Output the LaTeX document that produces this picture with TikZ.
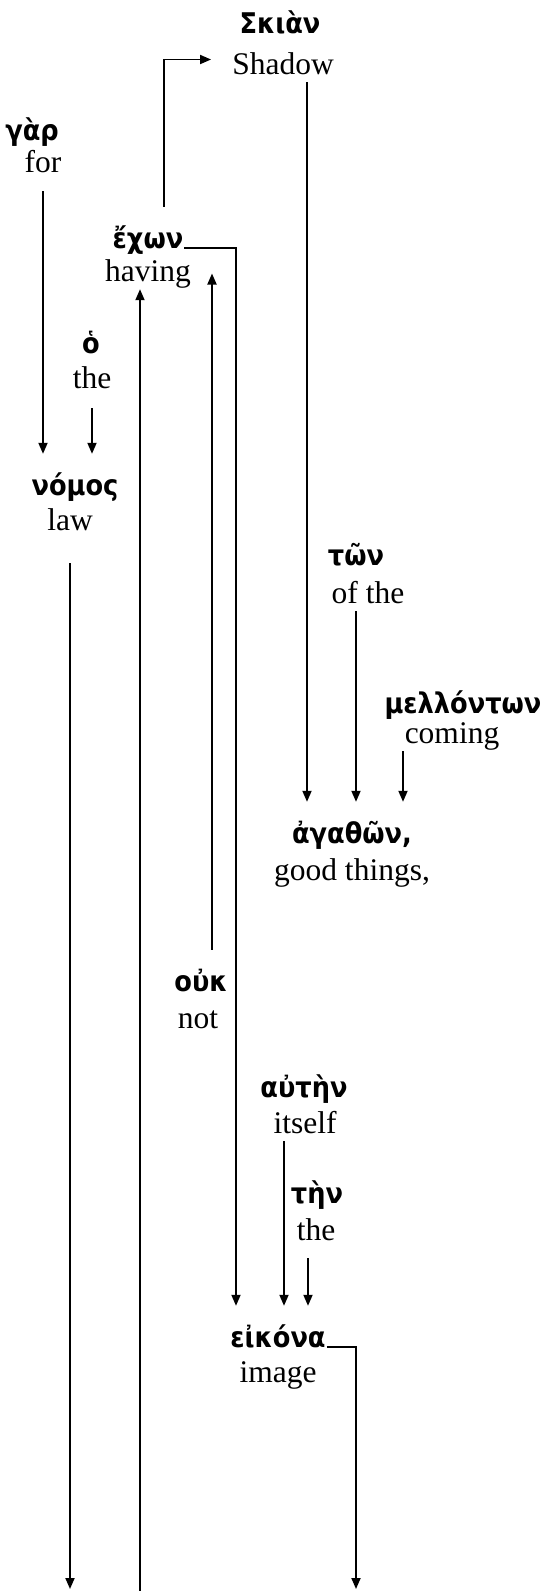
\documentclass[tikz,border=0pt]{standalone}
\usepackage{fontspec}
\setmainfont{Liberation Serif}
\newfontfamily\greekfont{DejaVu Sans Condensed}
\usepackage{tikz}
\usetikzlibrary{arrows.meta,calc}
\tikzset{
  gk/.style={font={\greekfont\bfseries\fontsize{28.5}{32}\selectfont}, anchor=base, inner sep=1pt, text height=40pt, text depth=6pt},
  en/.style={font={\fontsize{31.5}{36}\selectfont}, anchor=base, inner sep=1pt, text height=22pt, text depth=7pt},
  link/.style={line width=1.8pt, -{Triangle[length=11pt,width=9pt]}}
}

\begin{document}
\begin{tikzpicture}[x=1pt,y=-1pt]
\fill[white] (0,0) rectangle (545,1591);
\useasboundingbox (0,0) rectangle (545,1591);

\node[gk] (skian) at (280,33) {Σκιὰν};
\node[en] (skian-en) at (283,74) {Shadow};
\node[gk] (gar) at (32,140) {γὰρ};
\node[en] (gar-en) at (43,172) {for};
\node[gk] (echon) at (148,248) {ἔχων};
\node[en] (echon-en) at (148,281) {having};
\node[gk] (ho) at (91,353) {ὁ};
\node[en] (ho-en) at (92,388) {the};
\node[gk] (nomos) at (75,495) {νόμος};
\node[en] (nomos-en) at (70,530) {law};
\node[gk] (ton) at (356,565) {τῶν};
\node[en] (ton-en) at (368,603) {of the};
\node[gk] (mellonton) at (463,713) {μελλόντων};
\node[en] (mellonton-en) at (452,743) {coming};
\node[gk] (agathon) at (352,843) {ἀγαθῶν,};
\node[en] (agathon-en) at (352,880) {good things,};
\node[gk] (ouk) at (201,991) {οὐκ};
\node[en] (ouk-en) at (198,1028) {not};
\node[gk] (autin) at (304,1097) {αὐτὴν};
\node[en] (autin-en) at (305,1133) {itself};
\node[gk] (tin) at (317,1203) {τὴν};
\node[en] (tin-en) at (316,1240) {the};
\node[gk] (eikona) at (278,1347) {εἰκόνα};
\node[en] (eikona-en) at (278,1382) {image};

\coordinate (nomos-out) at (70,1589);
\coordinate (echon-in) at (140,1591);
\coordinate (eikona-out) at (356,1589);

\draw[link] (gar-en.south) ++(0,11) -- (gar-en.south |- nomos.north);
\draw[link] (ho-en.south) ++(0,12) -- (ho-en.south |- nomos.north);
\draw[link] (nomos-en.south) ++(0,25) -- (nomos-out);
\draw[link] ([xshift=16pt]echon.north) |- ([xshift=-20pt,yshift=7pt]skian-en.west);
\draw[link] (echon.base east) -| ([xshift=-42pt]eikona.north);
\draw[link] ([xshift=11pt]ouk.north) -- ([xshift=11pt]ouk.north |- echon-en.center);
\draw[link] (echon-in) -- (echon-in |- echon-en.south);
\draw[link] ([xshift=24pt]skian-en.south) -- ([xshift=24pt]skian-en.south |- agathon.north);
\draw[link] ([xshift=-12pt]ton-en.south) -- ([xshift=-12pt]ton-en.south |- agathon.north);
\draw[link] ([xshift=-49pt]mellonton-en.south) -- ([xshift=-49pt]mellonton-en.south |- agathon.north);
\draw[link] ([xshift=-21pt]autin-en.south) -- ([xshift=-21pt]autin-en.south |- eikona.north);
\draw[link] ([xshift=-8pt]tin-en.south) ++(0,10) -- ([xshift=-8pt]tin-en.south |- eikona.north);
\draw[link] (eikona.base east) -| (eikona-out);
\end{tikzpicture}
\end{document}
